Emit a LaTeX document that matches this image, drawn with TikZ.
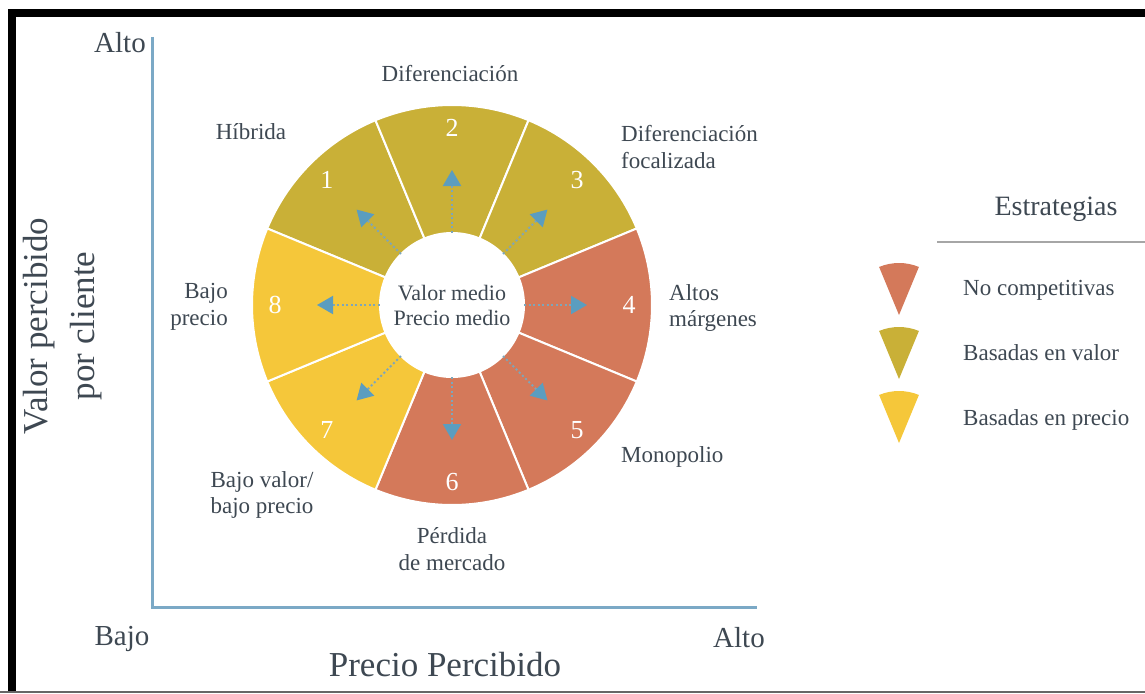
\documentclass[tikz,border=0pt]{standalone}
\usepackage{fontspec}
\setmainfont{Liberation Serif}
\usetikzlibrary{arrows.meta}
\definecolor{segolive}{HTML}{C9B037}
\definecolor{segred}{HTML}{D4795A}
\definecolor{segyel}{HTML}{F5C73A}
\definecolor{arrowblue}{HTML}{5B9DBF}
\definecolor{dotblue}{HTML}{7DA6BA}
\definecolor{axisblue}{HTML}{7BA9C6}
\definecolor{txt}{HTML}{3E4852}
\begin{document}
\begin{tikzpicture}[x=1pt,y=-1pt,
  lab/.style={text=txt, font=\fontsize{23}{26.5}\selectfont, inner sep=0pt, align=center},
  leglab/.style={text=txt, font=\fontsize{23}{26.5}\selectfont, inner sep=0pt, anchor=base west},
  numlab/.style={text=white, font=\fontsize{26}{28}\selectfont, inner sep=0pt},
  ticklab/.style={text=txt, font=\fontsize{29}{32}\selectfont, inner sep=0pt},
  axtitle/.style={text=txt, font=\fontsize{35}{47}\selectfont, inner sep=0pt, align=center},
  arr/.style={dotblue, line width=2pt, dash pattern=on 2pt off 2.5pt,
    -{Triangle[length=16pt,width=18pt,color=arrowblue]}},
  sector/.style={draw=white, line width=2pt}]
\useasboundingbox (0,0) rectangle (1145,693);
\fill[white] (0,0) rectangle (1145,693);
% frame
\fill[black] (8,9) rectangle (1145,17);
\fill[black] (8,9) rectangle (16,693);
\fill[black!60] (0,691) rectangle (1145,693);
% axes
\coordinate (ytop) at (152,37);
\coordinate (orig) at (152,607);
\coordinate (xend) at (757,607);
\draw[axisblue, line width=3pt] (ytop) -- (orig) -- (xend);
\node[ticklab] (altoy) at (120,43) {Alto};
\node[ticklab] (bajox) at (122,639) {Bajo};
\node[ticklab] (altox) at (739,638) {Alto};
\node[axtitle] (xtitle) at (445,665) {Precio Percibido};
\node[axtitle, rotate=90] (ytitle) at (63,326) {Valor percibido\\por cliente};
% wheel
\begin{scope}[shift={(452,305)}, y=1pt]
  \foreach \c/\col/\n in {135/segolive/1, 90/segolive/2, 45/segolive/3, 0/segred/4, 315/segred/5, 270/segred/6, 225/segyel/7, 180/segyel/8} {
    \filldraw[sector, fill=\col] ({\c-22.5}:72) arc[start angle={\c-22.5}, end angle={\c+22.5}, radius=72pt]
      -- ({\c+22.5}:200) arc[start angle={\c+22.5}, end angle={\c-22.5}, radius=200pt] -- cycle;
    \node[numlab] (n\n) at (\c:177) {\n};
  }
  \node[circle, fill=white, minimum size=144pt, inner sep=0pt, align=center, text=txt,
        font=\fontsize{22}{25}\selectfont] (mid) at (0,0) {Valor medio\\Precio medio};
  \foreach \c in {135,90,45,0,315,270,225,180} {
    \coordinate (tip\c) at (\c:135);
    \draw[arr] (mid.\c) -- (tip\c);
  }
\end{scope}
% segment labels
\node[lab] (l2) at (450,74) {Diferenciación};
\node[lab] (l1) at (251,132) {Híbrida};
\node[lab, anchor=west, align=left] (l3) at (621,147) {Diferenciación\\focalizada};
\node[lab, anchor=west, align=left] (l4) at (669,308) {Altos\\márgenes};
\node[lab, anchor=west] (l5) at (621,457) {Monopolio};
\node[lab] (l6) at (452,549) {Pérdida\\de mercado};
\node[lab] (l7) at (262,495) {Bajo valor/\\bajo precio};
\node[lab, anchor=east, align=right] (l8) at (228,307) {Bajo\\precio};
% legend
\node[text=txt, font=\fontsize{28}{30}\selectfont, inner sep=0pt] (legtitle) at (1056,209) {Estrategias};
\coordinate (lineL) at (937,242);
\coordinate (lineR) at (1145,242);
\draw[black!35, line width=1.5pt] (lineL) -- (lineR);
\foreach \yy/\col in {315/segred, 379/segolive, 443/segyel} {
  \begin{scope}[shift={(899,\yy)}, y=1pt]
    \fill[\col] (0,0) -- (67.5:52) arc[start angle=67.5, end angle=112.5, radius=52pt] -- cycle;
  \end{scope}
}
\node[leglab] (lg1) at (963,295) {No competitivas};
\node[leglab] (lg2) at (963,360) {Basadas en valor};
\node[leglab] (lg3) at (963,425) {Basadas en precio};
\end{tikzpicture}
\end{document}
